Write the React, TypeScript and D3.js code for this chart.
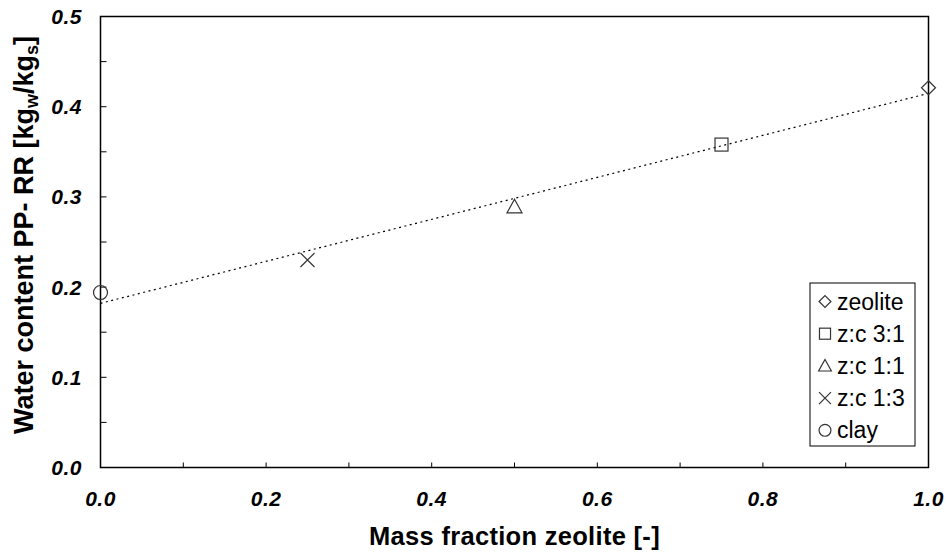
import React from "react";
import * as d3 from "d3";

const categories = ["zeolite", "z:c 3:1", "z:c 1:1", "z:c 1:3", "clay"];
const massFraction = [1.0, 0.75, 0.5, 0.25, 0.0];
const waterContent = [0.421, 0.358, 0.289, 0.23, 0.194];
const symbols = ["diamond", "square", "triangle", "cross", "circle"];
const xTickLabels = [0, 0.2, 0.4, 0.6, 0.8, 1.0];
const yTickLabels = [0, 0.1, 0.2, 0.3, 0.4, 0.5];

const W = 946, H = 555;
const L = 100.5, R = 928.5, T = 16.5, B = 467.5;

function Marker({ type, x, y, s = 1 }: { type: string; x: number; y: number; s?: number }) {
  const st = { fill: "none", stroke: "#333", strokeWidth: 1.2 };
  if (type === "diamond") {
    const r = 7 * s;
    return <path d={`M${x},${y - r}L${x + r},${y}L${x},${y + r}L${x - r},${y}Z`} {...st} />;
  }
  if (type === "square") {
    const r = 6.5 * s;
    return <rect x={x - r} y={y - r} width={2 * r} height={2 * r} {...st} />;
  }
  if (type === "triangle") {
    const r = 7.5 * s;
    return <path d={`M${x},${y - r}L${x + r},${y + r * 0.8}L${x - r},${y + r * 0.8}Z`} {...st} />;
  }
  if (type === "cross") {
    const r = 7 * s;
    return <path d={`M${x - r},${y - r}L${x + r},${y + r}M${x + r},${y - r}L${x - r},${y + r}`} {...st} />;
  }
  return <circle cx={x} cy={y} r={7 * s} {...st} />;
}

export default function App() {
  const x = d3.scaleLinear().domain([0, 1]).range([L, R]);
  const y = d3.scaleLinear().domain([0, 0.5]).range([B, T]);
  const n = massFraction.length;
  const mx = d3.mean(massFraction)!;
  const my = d3.mean(waterContent)!;
  let num = 0, den = 0;
  for (let i = 0; i < n; i++) {
    num += (massFraction[i] - mx) * (waterContent[i] - my);
    den += (massFraction[i] - mx) ** 2;
  }
  const slope = num / den;
  const icpt = my - slope * mx;
  const xMinor = d3.range(0, 1.0001, 0.1);
  const yMinor = d3.range(0, 0.5001, 0.05);
  const font = "Liberation Sans, Arial, sans-serif";
  const legX = 810, legY = 283, legW = 105, legH = 163;
  return (
    <svg width={W} height={H} style={{ position: "absolute", left: 0, top: 0 }} fontFamily={font}>
      <rect x={0} y={0} width={W} height={H} fill="#fff" />
      <rect x={L} y={T} width={R - L} height={B - T} fill="none" stroke="#000" strokeWidth={1.5} />
      {xMinor.map((v, i) => (
        <line key={"xt" + i} x1={x(v)} x2={x(v)} y1={B} y2={B - 5} stroke="#000" strokeWidth={1} />
      ))}
      {yMinor.map((v, i) => (
        <line key={"yt" + i} x1={L} x2={L + 6} y1={y(v)} y2={y(v)} stroke="#000" strokeWidth={1} />
      ))}
      {xTickLabels.map((v, i) => (
        <text key={"xl" + i} x={x(v)} y={505.5} textAnchor="middle" fontSize={21} fontWeight="bold" fontStyle="italic" letterSpacing={0.5}>
          {v.toFixed(1)}
        </text>
      ))}
      {yTickLabels.map((v, i) => (
        <text key={"yl" + i} x={82} y={y(v) + 7.5} textAnchor="end" fontSize={21} fontWeight="bold" fontStyle="italic" letterSpacing={0.5}>
          {v.toFixed(1)}
        </text>
      ))}
      <line x1={x(0)} y1={y(icpt)} x2={x(1)} y2={y(icpt + slope)} stroke="#000" strokeWidth={1.2} strokeDasharray="2,3.5" />
      {categories.map((c, i) => (
        <Marker key={c} type={symbols[i]} x={x(massFraction[i])} y={y(waterContent[i])} />
      ))}
      <rect x={legX} y={legY} width={legW} height={legH} fill="#fff" stroke="#000" strokeWidth={1} />
      {categories.map((c, i) => {
        const cy = legY + 18.5 + i * 32.2;
        return (
          <g key={"lg" + c}>
            <Marker type={symbols[i]} x={legX + 15} y={cy} s={0.85} />
            <text x={legX + 27} y={cy + 8} fontSize={23}>{c}</text>
          </g>
        );
      })}
      <text x={(L + R) / 2} y={545} textAnchor="middle" fontSize={25.5} fontWeight="bold" letterSpacing={0.3}>
        Mass fraction zeolite [-]
      </text>
      <text transform={`translate(33,235) rotate(-90)`} textAnchor="middle" fontSize={27} fontWeight="bold">
        Water content PP- RR [kg<tspan fontSize={18} dy={5}>w</tspan><tspan dy={-5}>/kg</tspan><tspan fontSize={18} dy={5}>s</tspan><tspan dy={-5}>]</tspan>
      </text>
    </svg>
  );
}
